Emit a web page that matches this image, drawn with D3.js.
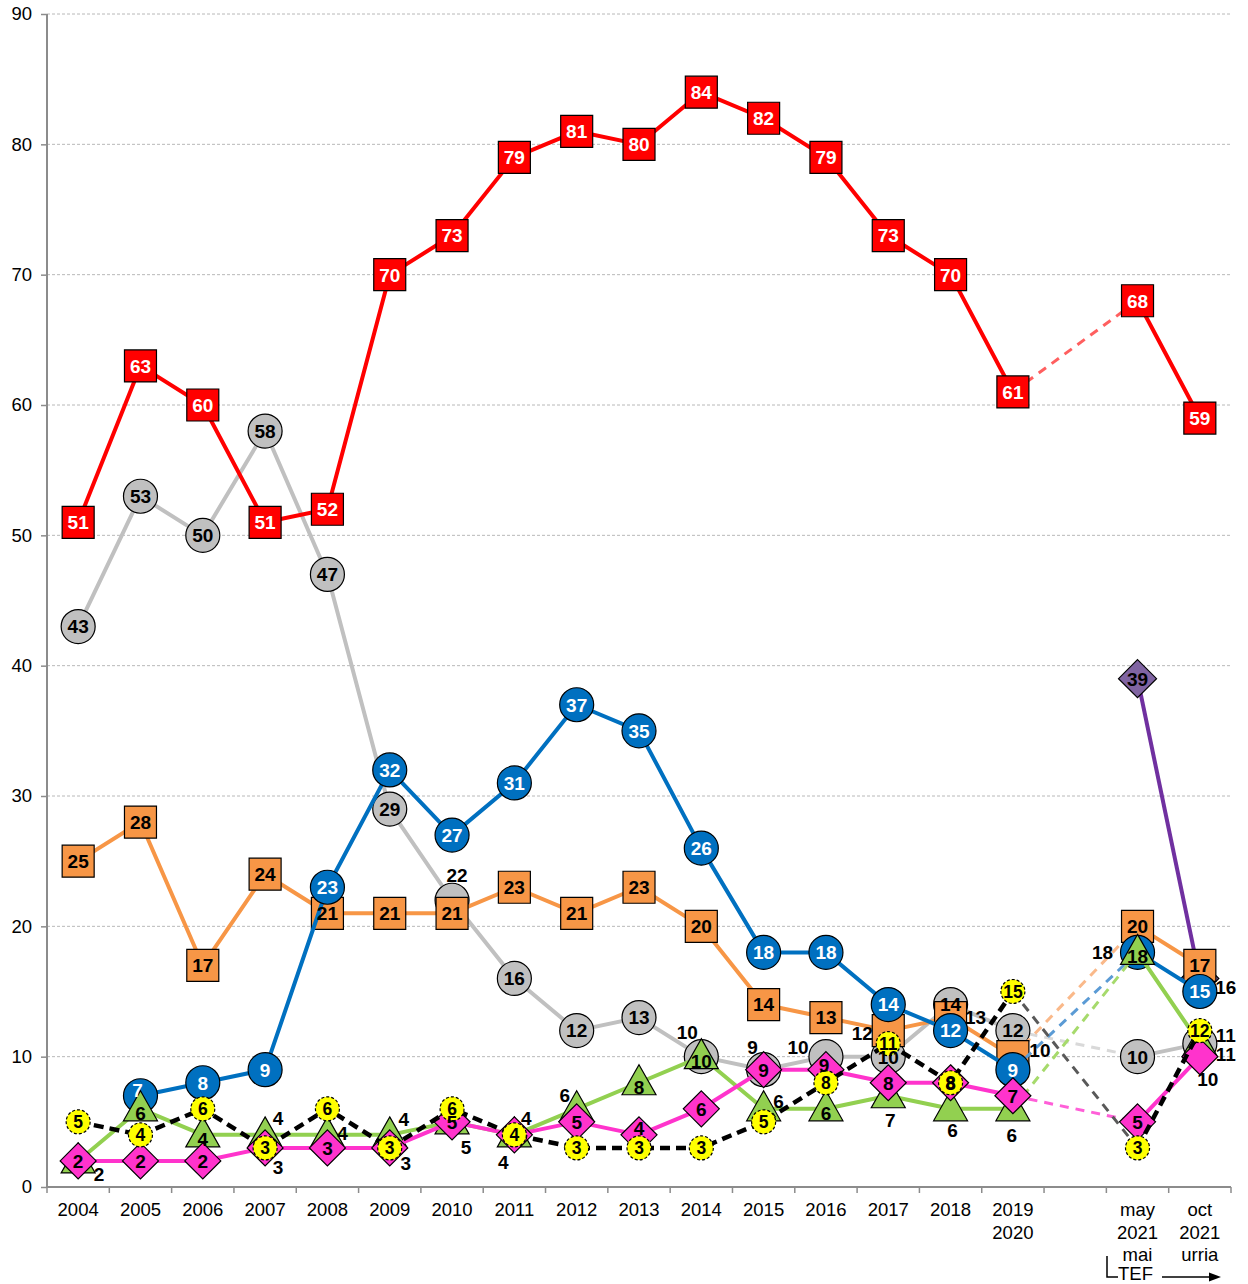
<!DOCTYPE html>
<html>
<head>
<meta charset="utf-8">
<script src="https://cdn.jsdelivr.net/npm/d3@7"></script>
<style>
  body { margin: 0; background: #fff; }
  text { font-family: "Liberation Sans", Arial, sans-serif; }
</style>
</head>
<body>
<svg id="chart" width="1248" height="1284"></svg>
<script>
// ---- data -----------------------------------------------------------------
var tickLabels = ['2004', '2005', '2006', '2007', '2008', '2009', '2010', '2011', '2012',
  '2013', '2014', '2015', '2016', '2017', '2018', '2019\n2020', '', 'may\n2021\nmai', 'oct\n2021\nurria'];
var yTicks = [0, 10, 20, 30, 40, 50, 60, 70, 80, 90];

var redVals    = [51, 63, 60, 51, 52, 70, 73, 79, 81, 80, 84, 82, 79, 73, 70, 61, null, 68, 59];
var grayVals   = [43, 53, 50, 58, 47, 29, 22, 16, 12, 13, 10, 9, 10, 10, 14, 12, null, 10, 11];
var blueVals   = [null, 7, 8, 9, 23, 32, 27, 31, 37, 35, 26, 18, 18, 14, 12, 9, null, 18, 15];
var orangeVals = [25, 28, 17, 24, 21, 21, 21, 23, 21, 23, 20, 14, 13, 12, 13, 10, null, 20, 17];
var greenVals  = [2, 6, 4, 4, 4, 4, 5, 4, 6, 8, 10, 6, 6, 7, 6, 6, null, 18, 11];
var pinkVals   = [2, 2, 2, 3, 3, 3, 5, 4, 5, 4, 6, 9, 9, 8, 8, 7, null, 5, 10];
var yellowVals = [5, 4, 6, 3, 6, 3, 6, 4, 3, 3, 3, 5, 8, 11, 8, 15, null, 3, 12];
var purpleVals = [null, null, null, null, null, null, null, null, null, null, null, null,
  null, null, null, null, null, 39, 16];

// labels that sit next to the marker instead of inside: index -> [dx, dy]
var labelOut = {
  gray:   { 6: [5, -25], 10: [-14, -25], 11: [-11, -23], 12: [-28, -10], 18: [26, -8] },
  orange: { 13: [-26, 3], 14: [25, 0], 15: [27, -7] },
  blue:   { 17: [-35, 0] },
  green:  { 0: [21, 13], 3: [13, -17], 4: [15, -2], 5: [14, -16], 6: [14, 25], 7: [-11, 27],
            8: [-12, -14], 11: [15, -8], 13: [2, 24], 14: [2, 21], 15: [-1, 26], 18: [26, 11] },
  pink:   { 3: [13, 19], 5: [16, 15], 7: [12, -17], 18: [8, 22] },
  purple: { 18: [26, 9] }
};
// labels kept inside the marker but nudged a little
var labelNudge = {
  blue: { 1: [-3, -6] },
  pink: { 9: [0, -7], 12: [-2, -5] }
};

var series = [
  { key: 'purple', values: purpleVals, shape: 'bigdiamond', fill: '#8064a2', line: '#7030a0', text: '#000', gap: '#7030a0' },
  { key: 'gray',   values: grayVals,   shape: 'circle',  fill: '#c0c0c0', line: '#c0c0c0', text: '#000', gap: '#d9d9d9' },
  { key: 'orange', values: orangeVals, shape: 'square',  fill: '#f79646', line: '#f79646', text: '#000', gap: '#fab98a' },
  { key: 'blue',   values: blueVals,   shape: 'circle',  fill: '#0070c0', line: '#0070c0', text: '#fff', gap: '#5b9bd5' },
  { key: 'green',  values: greenVals,  shape: 'triangle', fill: '#92d050', line: '#92d050', text: '#000', gap: '#a6da6c' },
  { key: 'pink',   values: pinkVals,   shape: 'diamond', fill: '#ff33cc', line: '#ff33cc', text: '#000', gap: '#ff5fd8' },
  { key: 'yellow', values: yellowVals, shape: 'small',   fill: '#ffff00', line: '#000', text: '#000', gap: '#595959', dash: '10,6' },
  { key: 'red',    values: redVals,    shape: 'square',  fill: '#ff0000', line: '#ff0000', text: '#fff', gap: '#ff5f5f' }
];

// ---- layout ---------------------------------------------------------------
var svg = d3.select('#chart');
var plotL = 47, plotR = 1231, plotT = 14, plotB = 1187;

var x = d3.scaleBand().domain(d3.range(tickLabels.length)).range([plotL, plotR]);
var y = d3.scaleLinear().domain([0, 90]).range([plotB, plotT]);
var cx = function (i) { return x(i) + x.bandwidth() / 2; };

// grid
svg.append('g').selectAll('line').data(yTicks.slice(1)).join('line')
  .attr('x1', plotL).attr('x2', plotR)
  .attr('y1', function (d) { return y(d); }).attr('y2', function (d) { return y(d); })
  .attr('stroke', '#b8b8b8').attr('stroke-width', 1).attr('stroke-dasharray', '3,2');

// y axis
var yAxis = svg.append('g').attr('transform', 'translate(' + plotL + ',0)')
  .call(d3.axisLeft(y).tickValues(yTicks).tickSize(6).tickPadding(9));
yAxis.select('.domain').attr('stroke', '#8c8c8c').attr('stroke-width', 2).attr('d', 'M0,' + plotT + 'V' + plotB);
yAxis.selectAll('.tick line').attr('stroke', '#8c8c8c').attr('stroke-width', 1.5);
yAxis.selectAll('.tick text').attr('font-size', 18.5).attr('fill', '#000')
  .style('font-family', '"Liberation Sans", Arial, sans-serif');

// x axis
svg.append('line').attr('x1', plotL).attr('x2', plotR).attr('y1', plotB).attr('y2', plotB)
  .attr('stroke', '#8c8c8c').attr('stroke-width', 2);
svg.append('g').selectAll('line').data(d3.range(tickLabels.length + 1)).join('line')
  .attr('x1', function (i) { return plotL + i * x.step(); })
  .attr('x2', function (i) { return plotL + i * x.step(); })
  .attr('y1', plotB).attr('y2', plotB + 6)
  .attr('stroke', '#8c8c8c').attr('stroke-width', 1.5);

var xl = svg.append('g').selectAll('text').data(tickLabels).join('text')
  .attr('text-anchor', 'middle').attr('font-size', 18.5).attr('fill', '#000');
xl.each(function (d, i) {
  var t = d3.select(this);
  d.split('\n').forEach(function (s, k) {
    t.append('tspan').attr('x', cx(i)).attr('y', 1216 + k * 22.5).text(s);
  });
});

// TEF bracket and arrow
svg.append('path').attr('d', 'M1107,1256V1277H1118').attr('fill', 'none')
  .attr('stroke', '#000').attr('stroke-width', 1.5);
svg.append('text').attr('x', 1118).attr('y', 1280).attr('font-size', 18.5).text('TEF');
svg.append('line').attr('x1', 1162).attr('x2', 1210).attr('y1', 1277).attr('y2', 1277)
  .attr('stroke', '#000').attr('stroke-width', 1.5);
svg.append('path').attr('d', 'M1221,1277L1209,1272.5V1281.5Z').attr('fill', '#000');

// ---- series ---------------------------------------------------------------
function shapePath(shape) {
  switch (shape) {
    case 'square': return 'M-16,-16H16V16H-16Z';
    case 'triangle': return 'M0,-18L17,12H-17Z';
    case 'diamond': return 'M0,-18L18,0L0,18L-18,0Z';
    case 'bigdiamond': return 'M0,-19L19,0L0,19L-19,0Z';
  }
  return null;
}

var line = d3.line()
  .defined(function (d) { return d != null; })
  .x(function (d, i) { return cx(i); })
  .y(function (d) { return y(d); });

var marksLayer = svg.append('g');
var labelLayer = svg.append('g'); // data labels sit above every marker

series.forEach(function (s) {
  var g = marksLayer.append('g').attr('class', 'series-' + s.key);
  var vals = s.values;

  // dashed connector across the missing period
  for (var i = 0; i < vals.length - 1; i++) {
    if (vals[i] != null && vals[i + 1] == null) {
      var j = i + 1;
      while (j < vals.length && vals[j] == null) j++;
      if (j < vals.length) {
        g.append('line')
          .attr('x1', cx(i)).attr('y1', y(vals[i]))
          .attr('x2', cx(j)).attr('y2', y(vals[j]))
          .attr('stroke', s.gap).attr('stroke-width', 3).attr('stroke-dasharray', '9,7');
      }
    }
  }

  g.append('path').datum(vals).attr('d', line)
    .attr('fill', 'none').attr('stroke', s.line)
    .attr('stroke-width', s.dash ? 4.5 : 4)
    .attr('stroke-dasharray', s.dash || null)
    .attr('stroke-linejoin', 'round');

  var pts = vals.map(function (v, i) { return { v: v, i: i }; })
    .filter(function (d) { return d.v != null; });

  var m = g.selectAll('g.m').data(pts).join('g').attr('class', 'm')
    .attr('transform', function (d) { return 'translate(' + cx(d.i) + ',' + y(d.v) + ')'; });

  if (s.shape === 'circle' || s.shape === 'small') {
    m.append('circle').attr('r', s.shape === 'small' ? 12 : 17)
      .attr('fill', s.fill).attr('stroke', '#000')
      .attr('stroke-width', 1.2)
      .attr('stroke-dasharray', s.shape === 'small' ? '3,2' : null);
  } else {
    m.append('path').attr('d', shapePath(s.shape))
      .attr('fill', s.fill).attr('stroke', '#000').attr('stroke-width', 1.2);
  }

  var out = labelOut[s.key] || {};
  var nudge = labelNudge[s.key] || {};
  var offset = function (d) {
    if (out[d.i]) return out[d.i];
    var base = s.shape === 'triangle' ? 4 : 0;
    if (nudge[d.i]) return [nudge[d.i][0], base + nudge[d.i][1]];
    return [0, base];
  };
  labelLayer.append('g').selectAll('text').data(pts).join('text')
    .attr('text-anchor', 'middle')
    .attr('font-size', s.shape === 'small' ? 17.5 : 19).attr('font-weight', 'bold')
    .attr('x', function (d) { return cx(d.i) + offset(d)[0]; })
    .attr('y', function (d) { return y(d.v) + offset(d)[1]; })
    .attr('dy', '0.36em')
    .attr('fill', function (d) { return out[d.i] ? '#000' : s.text; })
    .text(function (d) { return d.v; });
});
</script>
</body>
</html>
